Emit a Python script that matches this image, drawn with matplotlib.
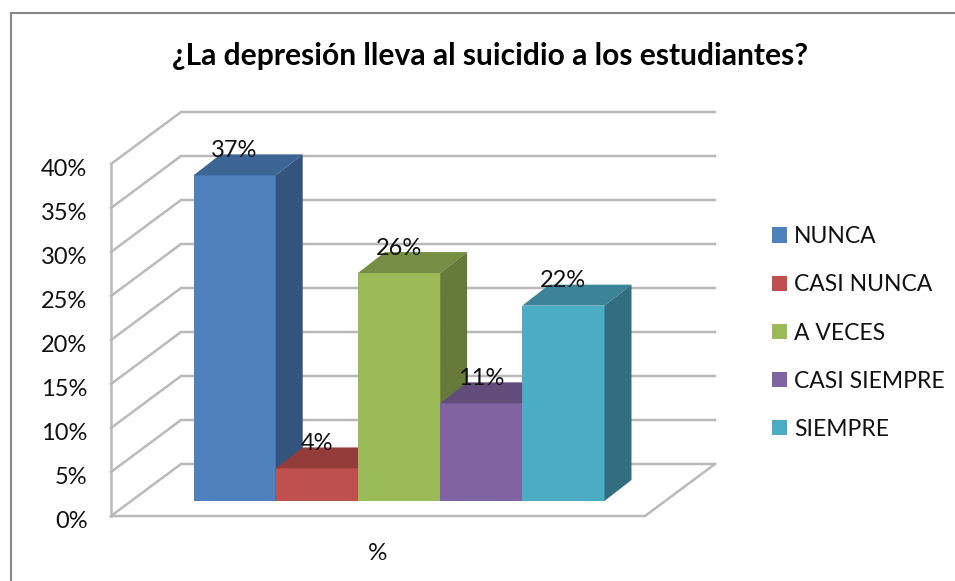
import matplotlib
matplotlib.use("Agg")
import matplotlib.pyplot as plt
from matplotlib.patches import Polygon, Patch
from matplotlib.lines import Line2D
from matplotlib.transforms import ScaledTranslation

plt.rcParams['font.family'] = ['Lato', 'DejaVu Sans']

title = "¿La depresión lleva al suicidio a los estudiantes?"
categories = ["NUNCA", "CASI NUNCA", "A VECES", "CASI SIEMPRE", "SIEMPRE"]
values = [37.0, 3.7, 25.9, 11.1, 22.2]
value_labels = ["37%", "4%", "26%", "11%", "22%"]
yticks = [0, 5, 10, 15, 20, 25, 30, 35, 40]
ytick_labels = ["0%", "5%", "10%", "15%", "20%", "25%", "30%", "35%", "40%"]
axis_label = "%"
front_colors = ["#4f81bd", "#c0504d", "#9bbb59", "#8064a2", "#4bacc6"]
top_colors = ["#3c6494", "#943c3a", "#768e44", "#624c7c", "#3a8399"]
side_colors = ["#33547d", "#7f3331", "#667a3a", "#54426b", "#326e7f"]

W, H = 955, 581
fig = plt.figure(figsize=(W / 100, H / 100), dpi=100)
L, R, B, T = 111, 715, 516, 110
ax = fig.add_axes([L / W, 1 - B / H, (R - L) / W, (B - T) / H])
PXY = 8.8    # pixels per percent
PXX = 82.2   # pixels per category
ax.set_xlim(0, (R - L) / PXX)
ax.set_ylim(0, (B - T) / PXY)
for s in ax.spines.values():
    s.set_visible(False)
ax.set_xticks([])
ax.set_yticks(yticks)
ax.set_yticklabels(ytick_labels, fontsize=17, color="#111111")
ax.tick_params(axis='y', length=0, pad=17)
shift = ScaledTranslation(0, -3.5 / 100, fig.dpi_scale_trans)
for t in ax.get_yticklabels():
    t.set_transform(t.get_transform() + shift)

# wall and floor
gx, gy = 70 / PXX, 52 / PXY
grid = dict(color="#bababa", lw=1.8, clip_on=False, solid_joinstyle='miter', zorder=1)
xend = (R - L) / PXX
for v in yticks:
    ax.plot([0, gx, xend], [v, v + gy, v + gy], **grid)
ax.plot([0, 0], [0, yticks[-1]], **grid)
ax.plot([0, xend - gx, xend], [0, 0, gy], **grid)

# bars
x0 = (193.5 - L) / PXX
base = 15 / PXY
dx, dy = 27 / PXX, 21 / PXY
for i, (v, lab) in enumerate(zip(values, value_labels)):
    x = x0 + i
    ax.bar(x, v, width=1, bottom=base, align='edge', color=front_colors[i],
           linewidth=0, zorder=3 + i, clip_on=False)
    top = base + v
    ax.add_patch(Polygon([(x, top), (x + 1, top), (x + 1 + dx, top + dy), (x + dx, top + dy)],
                         closed=True, fc=top_colors[i], ec='none', zorder=3 + i, clip_on=False))
    ax.add_patch(Polygon([(x + 1, base), (x + 1 + dx, base + dy), (x + 1 + dx, top + dy), (x + 1, top)],
                         closed=True, fc=side_colors[i], ec='none', zorder=3 + i, clip_on=False))
    ax.text(x + 0.5, top + dy + 0.45, lab, ha='center', va='center', fontsize=17,
            color="#111111", zorder=20, clip_on=False)

ax.text((xend - gx) / 2, -37 / PXY, axis_label, ha='center', va='center', fontsize=17.5, color="#111111", clip_on=False)

fig.text(490 / W, 1 - 56 / H, title, ha='center', va='center', fontsize=21.6,
         fontweight='bold', color="black")

handles = [Patch(fc=c, ec='none') for c in front_colors]
fig.legend(handles, categories, loc='center left', bbox_to_anchor=(772 / W, 1 - 333 / H),
           frameon=False, fontsize=16.5, handlelength=0.66, handleheight=0.66,
           handletextpad=0.3, labelspacing=1.185, borderpad=0, borderaxespad=0,
           labelcolor="#111111")

# outer frame of the picture
fig.add_artist(Line2D([11 / W, 11 / W, 1], [0, 1 - 13 / H, 1 - 13 / H], color="#868686", lw=1.5,
                      transform=fig.transFigure))

fig.savefig("out.png", dpi=100)
